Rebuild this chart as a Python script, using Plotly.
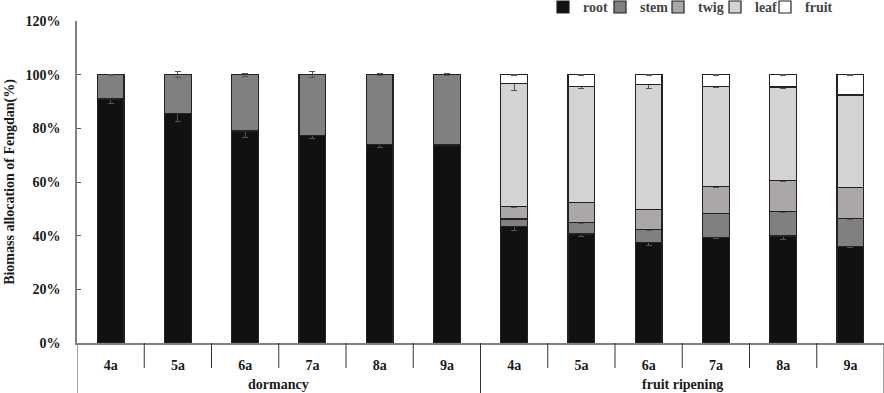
import plotly.graph_objects as go

categories = ["4a", "5a", "6a", "7a", "8a", "9a", "4a", "5a", "6a", "7a", "8a", "9a"]
groups = ["dormancy", "fruit ripening"]
yticks = [0, 20, 40, 60, 80, 100, 120]
ytick_labels = ["0%", "20%", "40%", "60%", "80%", "100%", "120%"]

root = [90.9, 85.6, 79.0, 77.2, 74.0, 73.8, 43.3, 40.6, 37.4, 39.4, 39.9, 35.9]
stem = [9.1, 14.4, 21.0, 22.8, 26.0, 26.2, 2.9, 4.4, 4.9, 9.0, 9.2, 10.4]
twig = [None, None, None, None, None, None, 4.7, 7.5, 7.6, 9.9, 11.5, 11.8]
leaf = [None, None, None, None, None, None, 45.7, 43.0, 46.4, 37.3, 34.8, 34.3]
fruit = [None, None, None, None, None, None, 3.4, 4.5, 3.7, 4.4, 4.6, 7.6]

root_err = [1.5, 3.0, 2.5, 1.0, 1.0, 0.3, 1.5, 1.0, 1.0, 0.5, 1.2, 0.3]
stem_err = [0.2, 1.0, 0.6, 1.2, 0.3, 0.3, 0.3, 0.3, 0.3, 0.3, 0.3, 0.3]
twig_err = [0, 0, 0, 0, 0, 0, 0.3, 0.3, 0.3, 0.5, 0.3, 0.3]
leaf_err = [0, 0, 0, 0, 0, 0, 2.4, 0.5, 1.5, 0.5, 0.4, 0.3]
fruit_err = [0, 0, 0, 0, 0, 0, 0.2, 0.2, 0.2, 0.2, 0.2, 0.2]

names = ["root", "stem", "twig", "leaf", "fruit"]
series = [root, stem, twig, leaf, fruit]
errors = [root_err, stem_err, twig_err, leaf_err, fruit_err]
colors = ["#111111", "#808080", "#aba7a7", "#d3d3d3", "#ffffff"]
legend_text_px = [583, 640, 698, 755, 805]

FONT = "Liberation Serif"
TXT = "#1a1a1a"
x = list(range(len(categories)))
PL, PW, PH = 77.0, 807.0, 322.0

fig = go.Figure()
legend_layouts = {}
for k, (name, vals, err, col) in enumerate(zip(names, series, errors, colors)):
    lg = "legend" if k == 0 else "legend%d" % (k + 1)
    fig.add_trace(go.Bar(
        x=x, y=vals, name="<b>" + name + "</b>", width=0.4, legend=lg,
        marker=dict(color=col, line=dict(color="#222222", width=1.2)),
        error_y=dict(type="data", array=err, visible=True,
                     color="#555555", thickness=1, width=3),
    ))
    legend_layouts[lg] = dict(
        orientation="h", x=(legend_text_px[k] - 40 - PL) / PW, xanchor="left",
        y=1.092, yanchor="top",
        font=dict(family=FONT, size=14, color="#444444"),
        itemwidth=30, bgcolor="rgba(0,0,0,0)")

n = len(categories)
shapes = []
for i in range(1, n):
    long = (i == n // 2)
    shapes.append(dict(type="line", xref="x", yref="paper",
                       x0=i - 0.5, x1=i - 0.5, y0=0,
                       y1=-(50 / PH) if long else -(25 / PH),
                       line=dict(color="#333333", width=1)))
for xv in [-0.5, n - 0.5]:
    shapes.append(dict(type="line", xref="x", yref="paper",
                       x0=xv, x1=xv, y0=0, y1=-(50 / PH),
                       line=dict(color="#808080", width=1.5)))

annotations = []
for gi, g in enumerate(groups):
    annotations.append(dict(
        x=gi * 6 + 2.5, xref="x", y=-(41 / PH), yref="paper",
        text="<b>" + g + "</b>", showarrow=False, yanchor="middle",
        font=dict(family=FONT, size=14, color=TXT)))

fig.update_layout(
    width=884, height=393,
    margin=dict(l=77, r=0, t=21, b=50, autoexpand=False),
    barmode="stack",
    plot_bgcolor="white", paper_bgcolor="white",
    showlegend=True,
    shapes=shapes,
    annotations=annotations,
    font=dict(family=FONT),
    **legend_layouts,
)
fig.update_xaxes(
    range=[-0.5, n - 0.5], tickvals=x, ticktext=["<b>" + c + "</b>" for c in categories],
    showline=True, linecolor="#808080", linewidth=1.5,
    ticks="", showgrid=False, zeroline=False, automargin=False,
    tickfont=dict(family=FONT, size=14, color=TXT),
    ticklabelstandoff=8,
)
fig.update_yaxes(
    range=[0, 120], tickvals=yticks, ticktext=["<b>" + t + "</b>" for t in ytick_labels],
    showline=True, linecolor="#808080", linewidth=1.5,
    ticks="inside", ticklen=4, tickcolor="#555555",
    showgrid=False, zeroline=False, automargin=False,
    tickfont=dict(family=FONT, size=14, color=TXT),
    ticklabelstandoff=12,
    title=dict(text="<b>Biomass allocation of Fengdan(%)</b>", standoff=8,
               font=dict(family=FONT, size=14, color=TXT)),
)

fig.write_html("out.html", config={"displayModeBar": False},
               post_script="document.body.style.margin='0';document.body.style.overflow='hidden';")
